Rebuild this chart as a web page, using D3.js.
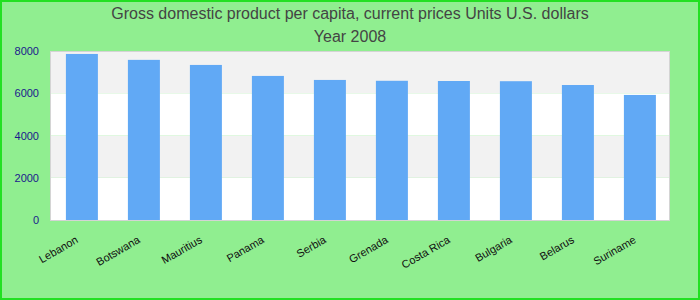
<!DOCTYPE html>
<html>
<head>
<meta charset="utf-8">
<script src="https://cdn.jsdelivr.net/npm/d3@7"></script>
<style>
body { margin: 0; }
svg { display: block; font-family: "Liberation Sans", Arial, sans-serif; }
</style>
</head>
<body>
<div id="chart"></div>
<script>
// data
var countries = ["Lebanon", "Botswana", "Mauritius", "Panama", "Serbia", "Grenada", "Costa Rica", "Bulgaria", "Belarus", "Suriname"];
var gdp = [7860, 7580, 7340, 6820, 6630, 6590, 6580, 6570, 6390, 5920];
var yTicks = [0, 2000, 4000, 6000, 8000];
var titleLines = ["Gross domestic product per capita, current prices Units U.S. dollars", "Year 2008"];

var width = 700, height = 300;
var margin = {top: 51, right: 30, bottom: 80, left: 50};

var svg = d3.select("#chart").append("svg")
    .attr("width", width)
    .attr("height", height);

// background + outer border
svg.append("rect")
    .attr("x", 1).attr("y", 1)
    .attr("width", width - 2).attr("height", height - 2)
    .style("fill", "#90ee90")
    .style("stroke", "#22e022")
    .style("stroke-width", 2);

var x = d3.scaleBand()
    .domain(countries)
    .range([margin.left, width - margin.right])
    .paddingInner(0.484)
    .paddingOuter(0.242)
    .align(0.53);

var y = d3.scaleLinear()
    .domain([0, 8000])
    .range([height - margin.bottom, margin.top]);

// plot background stripes
svg.selectAll("rect.band")
    .data(d3.pairs(yTicks))
    .join("rect")
    .attr("class", "band")
    .attr("x", margin.left)
    .attr("width", width - margin.right - margin.left)
    .attr("y", d => y(d[1]))
    .attr("height", d => y(d[0]) - y(d[1]))
    .style("fill", (d, i) => i % 2 ? "#f2f2f2" : "#ffffff");

// bars
svg.selectAll("rect.bar")
    .data(countries)
    .join("rect")
    .attr("class", "bar")
    .attr("x", d => x(d))
    .attr("width", x.bandwidth())
    .attr("y", (d, i) => y(gdp[i]))
    .attr("height", (d, i) => y(0) - y(gdp[i]))
    .style("fill", "#61a9f5");

// plot frame
svg.append("rect")
    .attr("x", margin.left + 0.5)
    .attr("y", margin.top + 0.5)
    .attr("width", width - margin.right - margin.left - 1)
    .attr("height", height - margin.bottom - margin.top)
    .style("fill", "none")
    .style("stroke", "#d4d4d4");

// y axis
var y_axis = d3.axisLeft(y).tickValues(yTicks).tickFormat(d3.format("d")).tickSize(0).tickPadding(11);
svg.append("g")
    .attr("transform", "translate(" + margin.left + ",0)")
    .call(y_axis)
    .call(g => g.select(".domain").remove())
    .selectAll("text")
    .style("font-size", "11px")
    .style("font-family", "Liberation Sans, Arial, sans-serif")
    .style("fill", "#1a1a8c");

// x axis labels
var x_axis = d3.axisBottom(x).tickSize(0).tickPadding(0);
svg.append("g")
    .attr("transform", "translate(0," + (height - margin.bottom) + ")")
    .call(x_axis)
    .call(g => g.select(".domain").remove())
    .selectAll("text")
    .style("font-size", "11px")
    .style("font-family", "Liberation Sans, Arial, sans-serif")
    .style("fill", "#111")
    .style("text-anchor", "end")
    .attr("dy", 0)
    .attr("transform", "translate(-3,22) rotate(-30)");

// title
svg.selectAll("text.title")
    .data(titleLines)
    .join("text")
    .attr("class", "title")
    .attr("x", width / 2)
    .attr("y", (d, i) => 19 + i * 23)
    .attr("text-anchor", "middle")
    .style("font-size", "16px")
    .style("fill", "#444")
    .text(d => d);
</script>
</body>
</html>
